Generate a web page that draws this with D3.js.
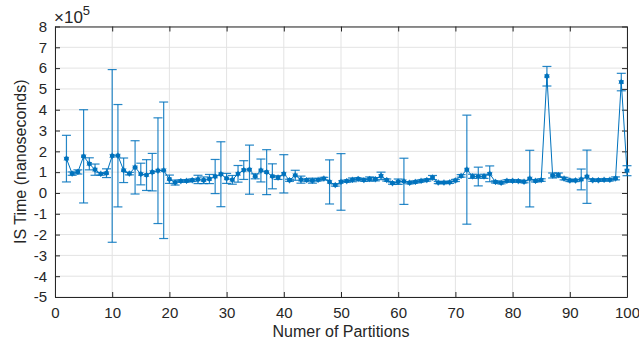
<!DOCTYPE html>
<html>
<head>
<meta charset="utf-8">
<script src="https://cdn.jsdelivr.net/npm/d3@7"></script>
<style>
  body { margin: 0; background: #fff; }
  svg { display: block; font-family: 'Liberation Sans', Arial, Helvetica, sans-serif; }
</style>
</head>
<body>
<svg id="chart"></svg>
<script>
// partitions and IS time (x 1e5 ns), mean and error half-length
const partitions = d3.range(2, 101);
const isTime = [
  1.65, 0.93, 1.01, 1.76, 1.40, 1.12, 0.92, 0.95, 1.78, 1.79,
  1.09, 0.93, 1.23, 0.91, 0.86, 1.00, 1.07, 1.09, 0.66, 0.50,
  0.57, 0.58, 0.61, 0.65, 0.61, 0.67, 0.79, 0.90, 0.70, 0.63,
  0.92, 1.10, 1.12, 0.80, 1.08, 1.00, 0.80, 0.74, 0.92, 0.61,
  0.85, 0.64, 0.62, 0.59, 0.63, 0.69, 0.53, 0.38, 0.53, 0.57,
  0.63, 0.67, 0.62, 0.67, 0.66, 0.82, 0.62, 0.47, 0.54, 0.56,
  0.49, 0.53, 0.58, 0.62, 0.74, 0.50, 0.50, 0.51, 0.60, 0.82,
  1.12, 0.80, 0.79, 0.80, 0.92, 0.53, 0.49, 0.58, 0.58, 0.57,
  0.54, 0.69, 0.58, 0.62, 5.61, 0.84, 0.86, 0.69, 0.60, 0.60,
  0.65, 0.78, 0.61, 0.61, 0.63, 0.63, 0.70, 5.33, 1.07
];
const isErr = [
  1.12, 0.08, 0.10, 2.24, 0.29, 0.27, 0.06, 0.21, 4.15, 2.46,
  0.59, 0.06, 1.28, 0.52, 0.74, 0.90, 2.54, 3.28, 0.20, 0.12,
  0.05, 0.05, 0.06, 0.20, 0.16, 0.22, 0.82, 1.56, 0.24, 0.21,
  0.40, 0.45, 1.18, 0.12, 0.55, 1.08, 0.60, 0.09, 0.92, 0.05,
  0.24, 0.17, 0.05, 0.12, 0.05, 0.06, 1.06, 0.05, 1.36, 0.05,
  0.09, 0.05, 0.06, 0.10, 0.08, 0.18, 0.05, 0.05, 0.13, 1.11,
  0.05, 0.05, 0.05, 0.05, 0.10, 0.05, 0.05, 0.05, 0.05, 0.06,
  2.62, 0.10, 0.45, 0.10, 0.38, 0.05, 0.05, 0.05, 0.05, 0.05,
  0.05, 1.36, 0.05, 0.06, 0.47, 0.12, 0.10, 0.06, 0.05, 0.05,
  0.50, 1.28, 0.05, 0.05, 0.05, 0.05, 0.07, 0.42, 0.24
];
const xTicks = d3.range(0, 101, 10);
const yTicks = d3.range(-5, 9, 1);

const data = partitions.map((p, i) => ({ x: p, y: isTime[i], e: isErr[i] }));

const W = 639, H = 347;
const margin = { top: 26.5, right: 12, bottom: 50, left: 55 };
const width = W - margin.left - margin.right;
const height = H - margin.top - margin.bottom;
const blue = '#0072BD', axisCol = '#262626';

//set up container
const svg = d3.select('#chart').attr('width', W).attr('height', H);
const g = svg.append('g').attr('transform', `translate(${margin.left},${margin.top})`);

//set up scaling
const xscale = d3.scaleLinear().domain([0, 100]).range([0, width]);
const yscale = d3.scaleLinear().domain([-5, 8]).range([height, 0]);

//grid
g.append('g').selectAll('line').data(xTicks).enter().append('line')
  .attr('x1', d => xscale(d)).attr('x2', d => xscale(d))
  .attr('y1', 0).attr('y2', height)
  .attr('stroke', '#e3e3e3').attr('stroke-width', 1);
g.append('g').selectAll('line').data(yTicks).enter().append('line')
  .attr('y1', d => yscale(d)).attr('y2', d => yscale(d))
  .attr('x1', 0).attr('x2', width)
  .attr('stroke', '#e3e3e3').attr('stroke-width', 1);

//set up axis (ticks inside, box on)
const tk = 5;
const xAxis = d3.axisBottom(xscale).tickValues(xTicks).tickSizeInner(-tk).tickSizeOuter(0).tickPadding(10);
const xTop = d3.axisTop(xscale).tickValues(xTicks).tickSizeInner(-tk).tickSizeOuter(0).tickFormat('');
const yAxis = d3.axisLeft(yscale).tickValues(yTicks).tickSizeInner(-tk).tickSizeOuter(0).tickPadding(8);
const yRight = d3.axisRight(yscale).tickValues(yTicks).tickSizeInner(-tk).tickSizeOuter(0).tickFormat('');

g.append('g').attr('transform', `translate(0,${height})`).call(xAxis);
g.append('g').call(xTop);
g.append('g').call(yAxis);
g.append('g').attr('transform', `translate(${width},0)`).call(yRight);

g.selectAll('.domain').attr('stroke', axisCol);
g.selectAll('.tick line').attr('stroke', axisCol);
g.selectAll('.tick text').attr('fill', axisCol).style('font-size', '15px')
  .text(function() { return this.textContent.replace('\u2212', '-'); });

//exponent label
const exp = svg.append('text').attr('x', margin.left - 1).attr('y', 23)
  .attr('fill', axisCol).style('font-size', '17px');
exp.append('tspan').text('\u00d710');
exp.append('tspan').attr('dy', -8).style('font-size', '13px').text('5');

//axis labels
svg.append('text')
  .attr('x', margin.left + width / 2).attr('y', 337)
  .attr('text-anchor', 'middle').attr('fill', axisCol)
  .style('font-size', '16px')
  .text('Numer of Partitions');
svg.append('text')
  .attr('transform', `translate(26,${margin.top + height / 2}) rotate(-90)`)
  .attr('text-anchor', 'middle').attr('fill', axisCol)
  .style('font-size', '16px')
  .text('IS Time (nanoseconds)');

//error bars
const cap = 4.5;
const bars = g.append('g').attr('stroke', blue).attr('stroke-width', 1.2).attr('stroke-opacity', 0.85);
bars.selectAll('.v').data(data).enter().append('line')
  .attr('x1', d => xscale(d.x)).attr('x2', d => xscale(d.x))
  .attr('y1', d => yscale(d.y + d.e)).attr('y2', d => yscale(d.y - d.e));
bars.selectAll('.t').data(data).enter().append('line')
  .attr('x1', d => xscale(d.x) - cap).attr('x2', d => xscale(d.x) + cap)
  .attr('y1', d => yscale(d.y + d.e)).attr('y2', d => yscale(d.y + d.e));
bars.selectAll('.b').data(data).enter().append('line')
  .attr('x1', d => xscale(d.x) - cap).attr('x2', d => xscale(d.x) + cap)
  .attr('y1', d => yscale(d.y - d.e)).attr('y2', d => yscale(d.y - d.e));

//line
const line = d3.line().x(d => xscale(d.x)).y(d => yscale(d.y));
g.append('path').datum(data).attr('d', line)
  .attr('fill', 'none').attr('stroke', blue).attr('stroke-width', 1);

//markers
g.append('g').selectAll('circle').data(data).enter().append('circle')
  .attr('cx', d => xscale(d.x)).attr('cy', d => yscale(d.y))
  .attr('r', 2.4).attr('fill', blue);
g.append('g').selectAll('path').data(data).enter().append('path')
  .attr('transform', d => `translate(${xscale(d.x)},${yscale(d.y)})`)
  .attr('d', d3.symbol(d3.symbolAsterisk, 26))
  .attr('fill', 'none').attr('stroke', blue).attr('stroke-width', 0.8);
</script>
</body>
</html>
